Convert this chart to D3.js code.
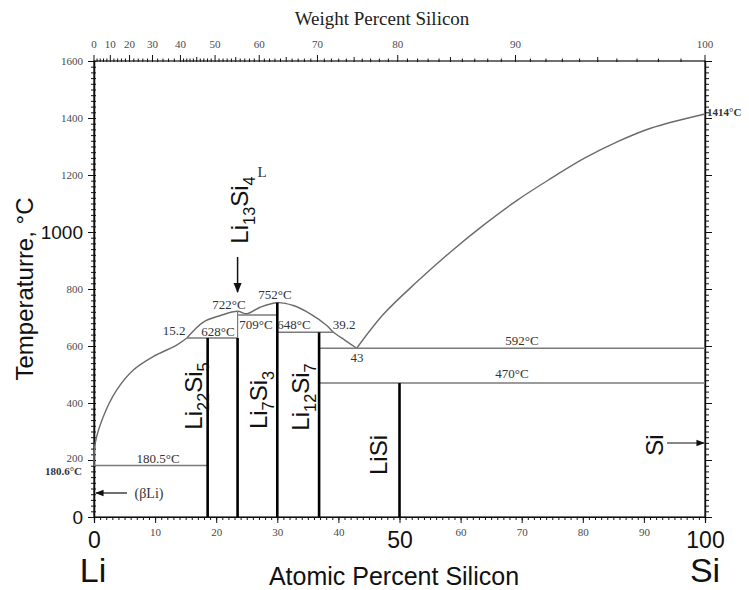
<!DOCTYPE html>
<html>
<head>
<meta charset="utf-8">
<script src="https://cdn.jsdelivr.net/npm/d3@7"></script>
<style>
  body { margin: 0; background: #fff; }
</style>
</head>
<body>
<svg width="749" height="590"></svg>
<script>
// values
var liquidusLi = [[0, 180.6], [0.2, 259], [1.5, 351], [3.7, 445], [6.4, 515], [9.7, 563], [13.6, 604], [15.2, 628]];
var liquidusMid = [[15.2, 628], [17.9, 684], [20.7, 707], [23.5, 722], [25, 713], [27.2, 736], [30, 752],
                   [32.6, 742], [35.4, 713], [38.1, 672], [39.2, 648], [41.1, 620], [43, 592]];
var liquidusSi = [[43, 592], [47.4, 712], [52.9, 826], [58.4, 931], [63.8, 1025], [69.3, 1112], [74.8, 1188],
                  [80.2, 1258], [85.7, 1317], [91.1, 1364], [100, 1414]];

// isotherms: temperature, from at%, to at%
var isoTemps = [180.5, 628, 709, 648, 592, 470];
var isoFrom  = [0, 15.2, 23.5, 30, 36.84, 36.84];
var isoTo    = [18.6, 23.5, 30, 39.2, 100, 100];

// line compounds: composition (at% Si) and top temperature
var compounds = ["Li22Si5", "Li13Si4", "Li7Si3", "Li12Si7", "LiSi"];
var compAt    = [18.6, 23.5, 30, 36.84, 50];
var compTop   = [628, 628, 752, 648, 470];

var tempTicks = [0, 200, 400, 600, 800, 1000, 1200, 1400, 1600];
var atTicks = [0, 10, 20, 30, 40, 50, 60, 70, 80, 90, 100];
var wtTicks = [0, 10, 20, 30, 40, 50, 60, 70, 80, 90, 100];

var SERIF = '"Liberation Serif", "Times New Roman", serif';
var SANS = '"Liberation Sans", Arial, sans-serif';

var svg = d3.select("svg");

var x = d3.scaleLinear().domain([0, 100]).range([94, 705]);
var y = d3.scaleLinear().domain([0, 1600]).range([517, 61]);

// weight % Si -> atomic % Si
var mLi = 6.941, mSi = 28.086;
function wtToAt(w) {
  var nSi = w / mSi, nLi = (100 - w) / mLi;
  return 100 * nSi / (nSi + nLi);
}

var defs = svg.append("defs");
defs.append("marker").attr("id", "arr")
    .attr("viewBox", "0 0 10 10").attr("refX", 9).attr("refY", 5)
    .attr("markerWidth", 7).attr("markerHeight", 7).attr("orient", "auto")
  .append("path").attr("d", "M0,1L10,5L0,9z").attr("fill", "#111");

// ---- axes ----
var minorT = d3.range(0, 1601, 20);
var minorA = d3.range(0, 101, 1);

svg.append("g").attr("transform", "translate(94,0)")
    .call(d3.axisLeft(y).tickValues(minorT).tickSize(3).tickFormat(""));
svg.append("g").attr("transform", "translate(94,0)")
    .call(d3.axisRight(y).tickValues(minorT).tickSize(2).tickFormat(""));
var yAx = svg.append("g").attr("transform", "translate(94,0)")
    .call(d3.axisLeft(y).tickValues(tempTicks).tickSize(6).tickPadding(5).tickFormat(d3.format("d")));
yAx.selectAll("text").style("font-family", SERIF).style("font-size", "11px").style("fill", "#4a4a4a");
yAx.selectAll(".tick").filter(function(d) { return d === 200; })
    .select("text").attr("dy", "0.1em");
yAx.selectAll(".tick").filter(function(d) { return d === 0 || d === 1000; })
    .select("text").style("font-family", SANS).style("font-size", "19px").style("fill", "#111");

svg.append("g").attr("transform", "translate(705,0)")
    .call(d3.axisRight(y).tickValues(minorT).tickSize(4).tickFormat(""));
svg.append("g").attr("transform", "translate(705,0)")
    .call(d3.axisRight(y).tickValues(tempTicks).tickSize(7).tickFormat(""));

svg.append("g").attr("transform", "translate(0,517)")
    .call(d3.axisBottom(x).tickValues(minorA).tickSize(3).tickFormat(""));
var xAx = svg.append("g").attr("transform", "translate(0,517)")
    .call(d3.axisBottom(x).tickValues(atTicks).tickSize(6).tickPadding(5));
xAx.selectAll("text").style("font-family", SERIF).style("font-size", "11px").style("fill", "#4a4a4a");
xAx.selectAll(".tick").filter(function(d) { return d === 0 || d === 50 || d === 100; })
    .select("text").style("font-family", SANS).style("font-size", "23px").style("fill", "#111")
    .attr("dy", "0.85em");

// top weight-percent axis
var xw = function(w) { return x(wtToAt(w)); };
var topG = svg.append("g");
var lastX = -10;
d3.range(0, 101, 1).forEach(function(w) {
  var px = xw(w);
  if (w % 10 !== 0 && px - lastX < 3) return;
  lastX = px;
  var len = w % 10 === 0 ? 6 : (w % 5 === 0 ? 4 : 2.5);
  topG.append("line").attr("x1", px).attr("x2", px).attr("y1", 62).attr("y2", 61 - len)
      .attr("stroke", "#111").attr("stroke-width", 1);
});
topG.selectAll("text.wt").data(wtTicks).enter().append("text")
    .attr("x", function(d) { return xw(d); }).attr("y", 48)
    .attr("text-anchor", "middle")
    .style("font-family", SERIF).style("font-size", "11px").style("fill", "#4a4a4a")
    .text(function(d) { return d; });

svg.selectAll(".domain").attr("stroke", "#111").attr("stroke-width", 1.2);
svg.selectAll(".tick line").attr("stroke", "#111");

// frame
svg.append("rect").attr("x", x(0)).attr("y", y(1600))
    .attr("width", x(100) - x(0)).attr("height", y(0) - y(1600))
    .attr("fill", "none").attr("stroke", "#111").attr("stroke-width", 1.2);

// ---- phase boundaries ----
var line = d3.line().x(function(d) { return x(d[0]); }).y(function(d) { return y(d[1]); })
    .curve(d3.curveCatmullRom.alpha(0.5));
[liquidusLi, liquidusMid, liquidusSi].forEach(function(seg) {
  svg.append("path").datum(seg).attr("d", line)
      .attr("fill", "none").attr("stroke", "#6b6b6b").attr("stroke-width", 1.4);
});

svg.selectAll("line.iso").data(isoTemps).enter().append("line")
    .attr("x1", function(d, i) { return x(isoFrom[i]); })
    .attr("x2", function(d, i) { return x(isoTo[i]); })
    .attr("y1", function(d) { return y(d); })
    .attr("y2", function(d) { return y(d); })
    .attr("stroke", "#7a7a7a").attr("stroke-width", 1.4);

// Li13Si4 congruent point drop
svg.append("line").attr("x1", x(23.5)).attr("x2", x(23.5)).attr("y1", y(722)).attr("y2", y(628))
    .attr("stroke", "#7a7a7a").attr("stroke-width", 1.2);

svg.selectAll("line.comp").data(compAt).enter().append("line")
    .attr("x1", function(d) { return x(d); }).attr("x2", function(d) { return x(d); })
    .attr("y1", y(0)).attr("y2", function(d, i) { return y(compTop[i]); })
    .attr("stroke", "#000").attr("stroke-width", 2.6);

// ---- small serif annotations ----
function note(txt, px, py, anchor, size, bold) {
  svg.append("text").attr("x", px).attr("y", py)
      .attr("text-anchor", anchor || "middle")
      .style("font-family", SERIF)
      .style("font-size", (size || 13) + "px").style("fill", "#333")
      .style("font-weight", bold ? "bold" : "normal").text(txt);
}
note("180.5°C", 158, 463);
note("15.2", 174, 335);
note("628°C", 218, 336);
note("722°C", 229, 309);
note("752°C", 275, 299);
note("709°C", 256, 329);
note("648°C", 294, 329);
note("39.2", 344, 329);
note("43", 357, 362);
note("592°C", 522, 345);
note("470°C", 512, 378);
note("1414°C", 707, 116, "start", 11, true);
note("180.6°C", 82, 475, "end", 11, true);
note("L", 262, 177, "middle", 15);
note("(βLi)", 149, 498, "middle", 14);

// (βLi) arrow and Si arrow
svg.append("line").attr("x1", 127).attr("x2", x(0) + 2).attr("y1", 493).attr("y2", 493)
    .attr("stroke", "#111").attr("stroke-width", 1.2).attr("marker-end", "url(#arr)");
svg.append("line").attr("x1", 667).attr("x2", x(100) - 1).attr("y1", 443).attr("y2", 443)
    .attr("stroke", "#111").attr("stroke-width", 1.2).attr("marker-end", "url(#arr)");
// Li13Si4 arrow
svg.append("line").attr("x1", x(23.5)).attr("x2", x(23.5)).attr("y1", 257).attr("y2", 292)
    .attr("stroke", "#111").attr("stroke-width", 1.5).attr("marker-end", "url(#arr)");

// ---- compound labels (rotated, with subscripts) ----
function formula(name, bx, cy, size) {
  var parts = name.match(/[A-Z][a-z]?|\d+/g);
  var t = svg.append("text")
      .attr("transform", "translate(" + bx + "," + cy + ") rotate(-90)")
      .attr("text-anchor", "middle")
      .style("font-family", SANS).style("font-size", size + "px").style("fill", "#111");
  var sub = false;
  parts.forEach(function(p) {
    var isNum = /\d/.test(p);
    var ts = t.append("tspan").text(p);
    if (isNum && !sub) { ts.attr("dy", size * 0.3).style("font-size", (size * 0.68) + "px"); sub = true; }
    else if (!isNum && sub) { ts.attr("dy", -size * 0.3); sub = false; }
  });
}
formula(compounds[0], 202, 396, 24);
formula(compounds[1], 248, 210, 24);
formula(compounds[2], 267, 400, 24);
formula(compounds[3], 309, 397, 24);
formula(compounds[4], 387, 455, 24);
formula("Si", 663, 445, 24);

// ---- axis titles ----
svg.append("text").attr("x", 382).attr("y", 25)
    .attr("text-anchor", "middle")
    .style("font-family", SERIF).style("font-size", "19px").style("fill", "#222")
    .text("Weight Percent Silicon");
svg.append("text").attr("x", 394).attr("y", 585)
    .attr("text-anchor", "middle")
    .style("font-family", SANS).style("font-size", "25px").style("fill", "#111")
    .text("Atomic Percent Silicon");
svg.append("text")
    .attr("transform", "translate(33,289) rotate(-90)")
    .attr("text-anchor", "middle")
    .style("font-family", SANS).style("font-size", "24px").style("fill", "#111")
    .text("Temperaturre, °C");
svg.append("text").attr("x", x(0) - 1).attr("y", 582)
    .attr("text-anchor", "middle")
    .style("font-family", SANS).style("font-size", "34px").style("fill", "#111").text("Li");
svg.append("text").attr("x", x(100)).attr("y", 582)
    .attr("text-anchor", "middle")
    .style("font-family", SANS).style("font-size", "34px").style("fill", "#111").text("Si");
</script>
</body>
</html>
